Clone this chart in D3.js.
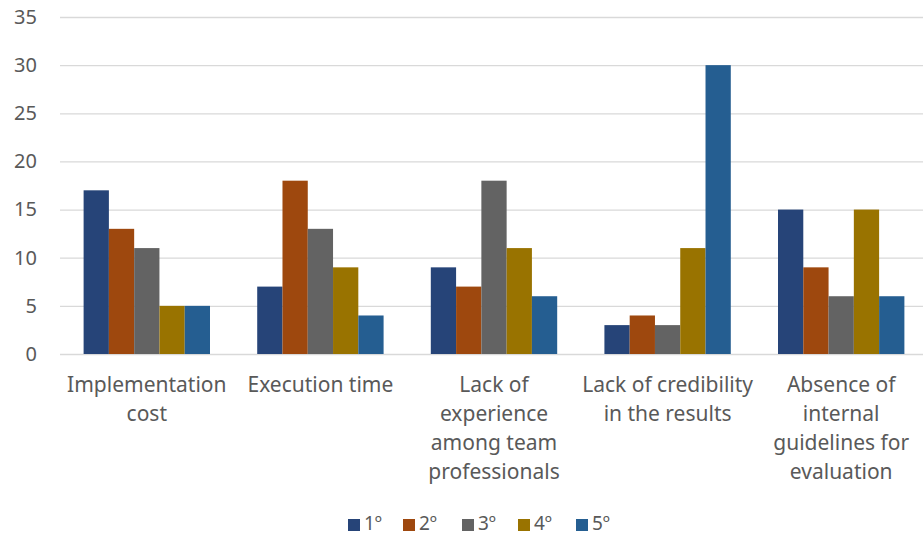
<!DOCTYPE html>
<html>
<head>
<meta charset="utf-8">
<script src="https://cdn.jsdelivr.net/npm/d3@7"></script>
<style>
  body { margin: 0; background: #fff; }
  text { font-family: "Noto Sans", sans-serif; fill: #595959; }
</style>
</head>
<body>
<svg id="chart"></svg>
<script>
// data
var categories = [
  "Implementation\ncost",
  "Execution time",
  "Lack of\nexperience\namong team\nprofessionals",
  "Lack of credibility\nin the results",
  "Absence of\ninternal\nguidelines for\nevaluation"
];
var seriesNames = ["1º", "2º", "3º", "4º", "5º"];
var values = [
  [17, 13, 11, 5, 5],   // Implementation cost
  [7, 18, 13, 9, 4],    // Execution time
  [9, 7, 18, 11, 6],    // Lack of experience
  [3, 4, 3, 11, 30],    // Lack of credibility
  [15, 9, 6, 15, 6]     // Absence of guidelines
];
var yTicks = [0, 5, 10, 15, 20, 25, 30, 35];
var colors = ["#264478", "#9e480e", "#636363", "#997300", "#255e91"];

var width = 923;
var height = 537;
var margin = { left: 60, right: -5, top: 17, bottom: 183 };

var svg = d3.select("#chart")
    .attr("width", width)
    .attr("height", height);

var x = d3.scaleBand()
    .domain(d3.range(categories.length))
    .range([margin.left, width - margin.right])
    .paddingInner(0.272)
    .paddingOuter(0.136);

var xInner = d3.scaleBand()
    .domain(d3.range(seriesNames.length))
    .range([0, x.bandwidth()]);

var y = d3.scaleLinear()
    .domain([0, 35])
    .range([height - margin.bottom, margin.top]);

var color = d3.scaleOrdinal()
    .domain(d3.range(seriesNames.length))
    .range(colors);

// gridlines + y labels
var yAxis = svg.append("g")
    .attr("transform", "translate(" + margin.left + ",0)")
    .call(d3.axisLeft(y)
      .tickValues(yTicks)
      .tickSize(-(width - margin.left - margin.right))
      .tickPadding(23));

yAxis.select(".domain").remove();
yAxis.selectAll(".tick line")
    .attr("stroke", "#d9d9d9")
    .attr("stroke-width", 1.3);
yAxis.selectAll(".tick text")
    .attr("font-size", 20)
    .attr("font-family", "Noto Sans, sans-serif")
    .attr("fill", "#595959");

// bars
var groups = svg.append("g")
  .selectAll("g")
  .data(values)
  .enter()
  .append("g")
    .attr("transform", (d, i) => "translate(" + x(i) + ",0)");

groups.selectAll("rect")
  .data(d => d)
  .enter()
  .append("rect")
    .attr("x", (d, j) => xInner(j))
    .attr("y", d => y(d))
    .attr("width", xInner.bandwidth())
    .attr("height", d => y(0) - y(d))
    .attr("fill", (d, j) => color(j));

// category labels
var labels = svg.append("g")
  .selectAll("text")
  .data(categories)
  .enter()
  .append("text")
    .attr("text-anchor", "middle")
    .attr("font-size", 21)
    .attr("transform", (d, i) => "translate(" + (x(i) + x.bandwidth() / 2) + "," + (y(0) + 38) + ")");

labels.selectAll("tspan")
  .data(d => d.split("\n"))
  .enter()
  .append("tspan")
    .attr("x", 0)
    .attr("dy", (d, i) => i === 0 ? 0 : 29)
    .text(d => d);

// legend
var legendX = [348, 403, 462, 518, 576];
var legend = svg.append("g")
  .selectAll("g")
  .data(seriesNames)
  .enter()
  .append("g")
    .attr("transform", (d, i) => "translate(" + legendX[i] + ",519)");

legend.append("rect")
    .attr("width", 12)
    .attr("height", 12)
    .attr("fill", (d, i) => color(i));

legend.append("text")
    .attr("x", 16)
    .attr("y", 11)
    .attr("font-size", 19)
    .text(d => d);
</script>
</body>
</html>
